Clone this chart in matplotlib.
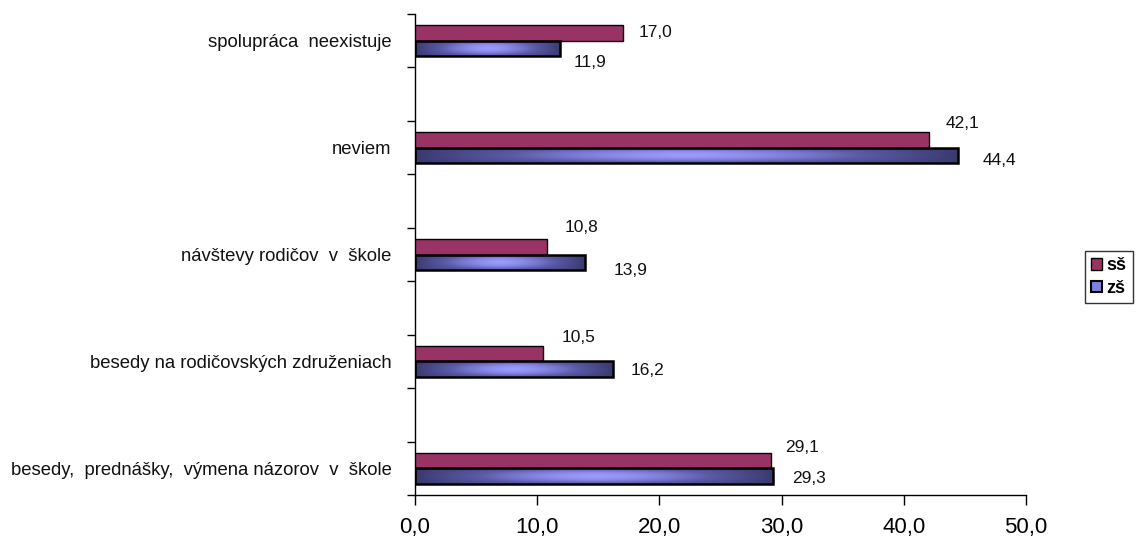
import numpy as np
import matplotlib
matplotlib.use("Agg")
import matplotlib.pyplot as plt
from matplotlib.colors import LinearSegmentedColormap
from matplotlib.patches import Patch

# ---- data (top to bottom as shown) ----
categories = [
    "spolupráca  neexistuje",
    "neviem",
    "návštevy rodičov  v  škole",
    "besedy na rodičovských združeniach",
    "besedy,  prednášky,  výmena názorov  v  škole",
]
ss_values = [17.0, 42.1, 10.8, 10.5, 29.1]   # sš
zs_values = [11.9, 44.4, 13.9, 16.2, 29.3]   # zš
series_names = ["sš", "zš"]
x_ticks = [0, 10, 20, 30, 40, 50]

# label offsets in pixels (dx right of bar end, dy up), style only
ss_off = [(33, 0), (33, 16), (35, 19), (35, 16), (31, 13)]
zs_off = [(30, -14), (42, -5), (46, -8), (35, -1), (36, -2)]

plt.rcParams['font.family'] = ['Liberation Sans', 'DejaVu Sans']

W, H = 1141, 543
fig = plt.figure(figsize=(W / 100, H / 100), dpi=100)
ax = fig.add_axes([415 / W, 48 / H, 611 / W, 481 / H])

n = len(categories)
ypos = [2 * (n - 1 - i) for i in range(n)]  # 8,6,4,2,0
bh = 0.29

maroon = "#993366"
ss_bars = ax.barh([y + bh / 2 for y in ypos], ss_values, height=bh,
                  color=maroon, edgecolor="black", linewidth=1.0, zorder=3)

zs_bars = ax.barh([y - bh / 2 for y in ypos], zs_values, height=bh,
                  color="#6666CC", edgecolor="black", linewidth=1.8, zorder=3)

# gradient fill for zš bars
cmap = LinearSegmentedColormap.from_list("bl", ["#3A3A70", "#5A5AA8", "#9A9AFF"])
gx = np.linspace(0, 1, 300)
gy = np.linspace(0, 1, 20)
GX, GY = np.meshgrid(gx, gy)
inten = (1 - np.abs(2 * GX - 1) ** 1.6) * (1 - 0.55 * np.abs(2 * GY - 1) ** 2)
for rect in zs_bars:
    x0, y0 = rect.get_x(), rect.get_y()
    w, h = rect.get_width(), rect.get_height()
    rect.set_facecolor("none")
    im = ax.imshow(inten, cmap=cmap, extent=(x0, x0 + w, y0, y0 + h),
                   aspect="auto", origin="lower", zorder=2, interpolation="bilinear")
    im.set_clip_path(rect)

# value labels
def fmt(v):
    return f"{v:.1f}".replace(".", ",")

for i in range(n):
    ax.annotate(fmt(ss_values[i]), xy=(ss_values[i], ypos[i] + bh / 2),
                xytext=ss_off[i], textcoords="offset pixels",
                ha="center", va="center", fontsize=12.5, color="#111111",
                annotation_clip=False)
    ax.annotate(fmt(zs_values[i]), xy=(zs_values[i], ypos[i] - bh / 2),
                xytext=zs_off[i], textcoords="offset pixels",
                ha="center", va="center", fontsize=12.5, color="#111111",
                annotation_clip=False)

ax.set_xlim(0, 50)
ax.set_ylim(-0.5, 2 * (n - 1) + 0.5)

ax.set_xticks(x_ticks)
ax.set_xticklabels([fmt(float(t)) for t in x_ticks], fontsize=16)
ax.tick_params(axis="x", direction="out", length=7, width=1, pad=9, colors="black")

ax.set_yticks(ypos)
ax.set_yticklabels(categories, fontsize=13.3, color="#111111")
ax.tick_params(axis="y", which="major", length=0, pad=17)
ax.set_yticks(np.arange(-0.5, 2 * (n - 1) + 1, 1.0), minor=True)
ax.tick_params(axis="y", which="minor", direction="out", length=6, width=1)

for s in ["top", "right"]:
    ax.spines[s].set_visible(False)
ax.spines["left"].set_linewidth(1)
ax.spines["bottom"].set_linewidth(1)

handles = [Patch(facecolor=maroon, edgecolor="black", linewidth=1),
           Patch(facecolor="#8080E0", edgecolor="black", linewidth=1.5)]
leg = fig.legend(handles, series_names, loc="upper left",
                 bbox_to_anchor=(1085 / W, 1 - 251 / H), bbox_transform=fig.transFigure,
                 frameon=True, fancybox=False, borderaxespad=0, handlelength=0.6,
                 handleheight=0.6, handletextpad=0.25, labelspacing=0.3,
                 prop={"size": 13, "weight": "bold"}, borderpad=0.35)
leg.get_frame().set_edgecolor("black")
leg.get_frame().set_linewidth(1)

fig.savefig("out.png", dpi=100)
